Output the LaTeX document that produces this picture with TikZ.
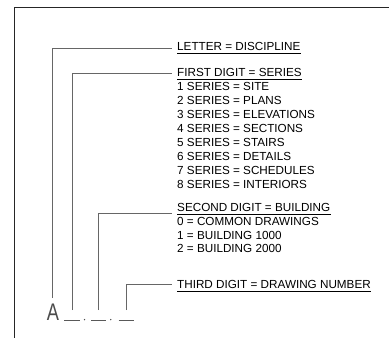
\documentclass[tikz,border=0pt]{standalone}
\usepackage{fontspec}
\setmainfont{Liberation Sans}
\begin{document}
\begin{tikzpicture}[x=1pt,y=-1pt,
  frame/.style={draw=black!85,line width=1pt},
  leader/.style={draw=black!60,line width=0.8pt},
  lbl/.style={anchor=base west,inner sep=0pt,font=\fontsize{11.7}{14}\selectfont},
  uline/.style={draw=black,line width=0.6pt},
  blank/.style={draw=black!65,line width=0.8pt}]
\useasboundingbox (0,0) rectangle (389,338);
% frame
\coordinate (fTR) at (389,7);
\coordinate (fTL) at (14,7);
\coordinate (fBL) at (14,338);
\draw[frame] (fTR) -- (fTL) -- (fBL);
% texts
\node[lbl] (t1) at (177,50.8) {LETTER = DISCIPLINE};
\node[lbl] (t2) at (177,76.6) {FIRST DIGIT = SERIES};
\node[lbl] (s1) at (177,90.6) {1 SERIES = SITE};
\node[lbl] (s2) at (177,104.6) {2 SERIES = PLANS};
\node[lbl] (s3) at (177,118.6) {3 SERIES = ELEVATIONS};
\node[lbl] (s4) at (177,132.6) {4 SERIES = SECTIONS};
\node[lbl] (s5) at (177,146.6) {5 SERIES = STAIRS};
\node[lbl] (s6) at (177,160.6) {6 SERIES = DETAILS};
\node[lbl] (s7) at (177,174.6) {7 SERIES = SCHEDULES};
\node[lbl] (s8) at (177,188.6) {8 SERIES = INTERIORS};
\node[lbl] (t3) at (177,211.6) {SECOND DIGIT = BUILDING};
\node[lbl] (b0) at (177,225.3) {0 = COMMON DRAWINGS};
\node[lbl] (b1) at (177,239) {1 = BUILDING 1000};
\node[lbl] (b2) at (177,252.5) {2 = BUILDING 2000};
\node[lbl] (t4) at (177,288.8) {THIRD DIGIT = DRAWING NUMBER};
\foreach \n in {t1,t2,t3,t4}
  \draw[uline] ([yshift=-2.4pt]\n.base west) -- ([yshift=-2.4pt]\n.base east);
% number template
\node[anchor=base,inner sep=0pt,text=black!70,font=\fontsize{24}{24}\selectfont,xscale=0.76] (A) at (53,320.5) {A};
\coordinate (u1a) at (64.3,320.7); \coordinate (u1b) at (80,320.7);
\coordinate (u2a) at (91,320.7);   \coordinate (u2b) at (106.3,320.7);
\coordinate (u3a) at (118.7,320.7); \coordinate (u3b) at (134.3,320.7);
\draw[blank] (u1a) -- (u1b);
\draw[blank] (u2a) -- (u2b);
\draw[blank] (u3a) -- (u3b);
\node[circle,fill=black!70,inner sep=0pt,minimum size=1.5pt] (d1) at (84.6,319.6) {};
\node[circle,fill=black!70,inner sep=0pt,minimum size=1.5pt] (d2) at (110.8,319.6) {};
% leaders
\coordinate (v1) at (52.7,298);
\coordinate (v2) at (72.7,310);
\coordinate (v3) at (98.7,310);
\coordinate (v4) at (126.7,310);
\coordinate (e1) at (172,48);
\coordinate (e2) at (172,73.3);
\coordinate (e3) at (172,213.5);
\coordinate (e4) at (172,284);
\draw[leader] (v1) |- (e1);
\draw[leader] (v2) |- (e2);
\draw[leader] (v3) |- (e3);
\draw[leader] (v4) |- (e4);
\end{tikzpicture}
\end{document}
